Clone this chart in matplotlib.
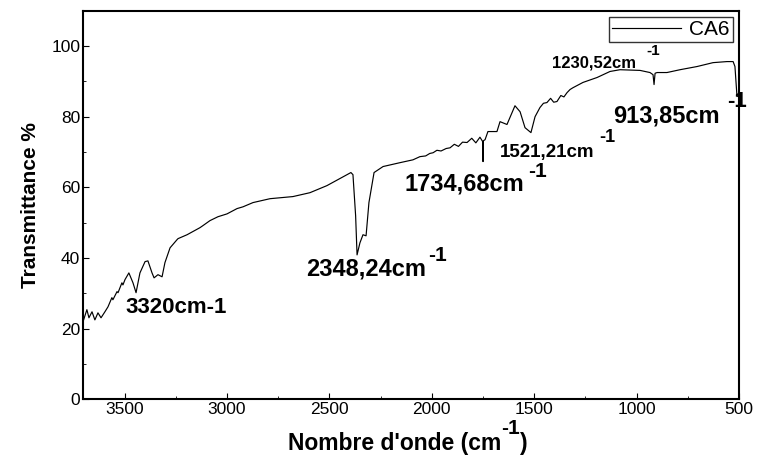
import numpy as np
import matplotlib
matplotlib.use("Agg")
import matplotlib.pyplot as plt
from matplotlib.ticker import MultipleLocator

plt.rcParams['font.family'] = ['Liberation Sans', 'DejaVu Sans']

# FTIR spectrum of CA6 (wavenumber cm-1, transmittance %)
wavenumber = [3700, 3684, 3674, 3659, 3645, 3630, 3615, 3596, 3581, 3562,
              3557, 3537, 3532, 3513, 3508, 3498, 3479, 3459, 3444, 3425,
              3400, 3386, 3366, 3356, 3337, 3317, 3303, 3278, 3244, 3239,
              3195, 3132, 3117, 3083, 3044, 3000, 2951, 2922, 2873, 2790,
              2678, 2595, 2512, 2395, 2385, 2372, 2365, 2351, 2336, 2321,
              2307, 2282, 2238, 2155, 2092, 2058, 2030, 2010, 1994, 1975,
              1955, 1930, 1911, 1890, 1870, 1850, 1828, 1805, 1785, 1765,
              1752, 1750, 1748, 1740, 1726, 1682, 1667, 1633, 1594, 1569,
              1545, 1516, 1496, 1472, 1455, 1438, 1420, 1405, 1389, 1370,
              1355, 1340, 1325, 1311, 1262, 1193, 1130, 1081, 983, 935,
              920, 915, 910, 900, 852, 788, 705, 627, 559, 529, 520, 510, 500]
transmittance = [22.5, 25.4, 23.1, 24.8, 22.5, 24.5, 23.1, 24.8, 26.2, 28.8,
                 28.2, 30.5, 30.2, 33.0, 32.4, 33.9, 35.8, 33.0, 30.2, 35.8,
                 39.0, 39.2, 35.8, 34.4, 35.3, 34.7, 38.7, 42.9, 45.2, 45.5,
                 46.6, 48.6, 49.2, 50.6, 51.7, 52.5, 54.0, 54.5, 55.7, 56.8,
                 57.4, 58.5, 60.5, 64.2, 63.6, 52.0, 40.9, 44.3, 46.6, 46.3,
                 55.7, 64.2, 65.9, 67.0, 67.8, 68.7, 68.9, 69.6, 69.8, 70.5,
                 70.3, 71.0, 71.2, 72.2, 71.6, 72.8, 72.7, 73.9, 72.6, 74.2,
                 73.0, 67.3, 73.2, 73.5, 75.8, 75.8, 78.6, 77.8, 83.1, 81.4,
                 76.9, 75.5, 80.0, 82.6, 83.8, 84.0, 85.2, 84.1, 84.3, 86.0,
                 85.6, 86.8, 87.7, 88.2, 89.7, 91.1, 92.8, 93.3, 93.1, 92.5,
                 91.9, 89.1, 92.3, 92.5, 92.5, 93.3, 94.2, 95.3, 95.6, 95.6,
                 94.2, 85.7, 86.0]

# peak labels: (text, x, y, size) and superscripts
labels = [("3320cm-1", 3498, 25.9, 16),
          ("2348,24cm", 2614, 37.0, 17),
          ("1734,68cm", 2131, 61.0, 17),
          ("1521,21cm", 1667, 69.8, 13.5),
          ("1230,52cm", 1413, 95.3, 12),
          ("913,85cm", 1115, 80.3, 17)]
supers = [(2019, 40.7, 15), (1530, 64.4, 15), (1184, 74.1, 13),
          (954, 98.7, 11), (559, 84.3, 16)]

fig = plt.figure(figsize=(7.58, 4.57), dpi=100)
ax = fig.add_axes([0.1095, 0.126, 0.8655, 0.8506])

ax.plot(wavenumber, transmittance, color="black", lw=0.85, label="CA6")

ax.set_xlim(3703, 500)
ax.set_ylim(0, 110)
ax.xaxis.set_major_locator(MultipleLocator(500))
ax.xaxis.set_minor_locator(MultipleLocator(250))
ax.yaxis.set_major_locator(MultipleLocator(20))
ax.yaxis.set_minor_locator(MultipleLocator(10))
ax.tick_params(which="both", direction="in", labelsize=12.5, pad=2)
ax.tick_params(which="major", length=4)
ax.tick_params(which="minor", length=2.5)
for sp in ax.spines.values():
    sp.set_linewidth(1.5)

for txt, x, y, s in labels:
    ax.text(x, y, txt, fontsize=s, fontweight="bold", ha="left", va="center")
for x, y, s in supers:
    ax.text(x, y, "-1", fontsize=s, fontweight="bold", ha="left", va="center")

ax.set_ylabel("Transmittance %", fontsize=15, fontweight="bold", labelpad=8)

# x label built from pieces so the superscript stays big
xl = fig.text(0.380, 0.016, "Nombre d'onde (cm", fontsize=16.5,
              fontweight="bold", ha="left", va="baseline")
sup = ax.annotate("-1", xy=(1.0, 0.72), xycoords=xl, fontsize=15,
                  fontweight="bold", ha="left", va="bottom",
                  annotation_clip=False)
ax.annotate(")", xy=(1.0, 0.0), xycoords=(sup, xl), fontsize=16.5,
            fontweight="bold", ha="left", va="bottom", annotation_clip=False)

leg = ax.legend(loc="upper right", fontsize=15, frameon=True, fancybox=False,
                borderaxespad=0.3, handlelength=3.3, borderpad=0.15,
                handletextpad=0.4)
leg.get_frame().set_edgecolor("black")
leg.get_frame().set_linewidth(1.0)

fig.savefig("out.png", dpi=100)
